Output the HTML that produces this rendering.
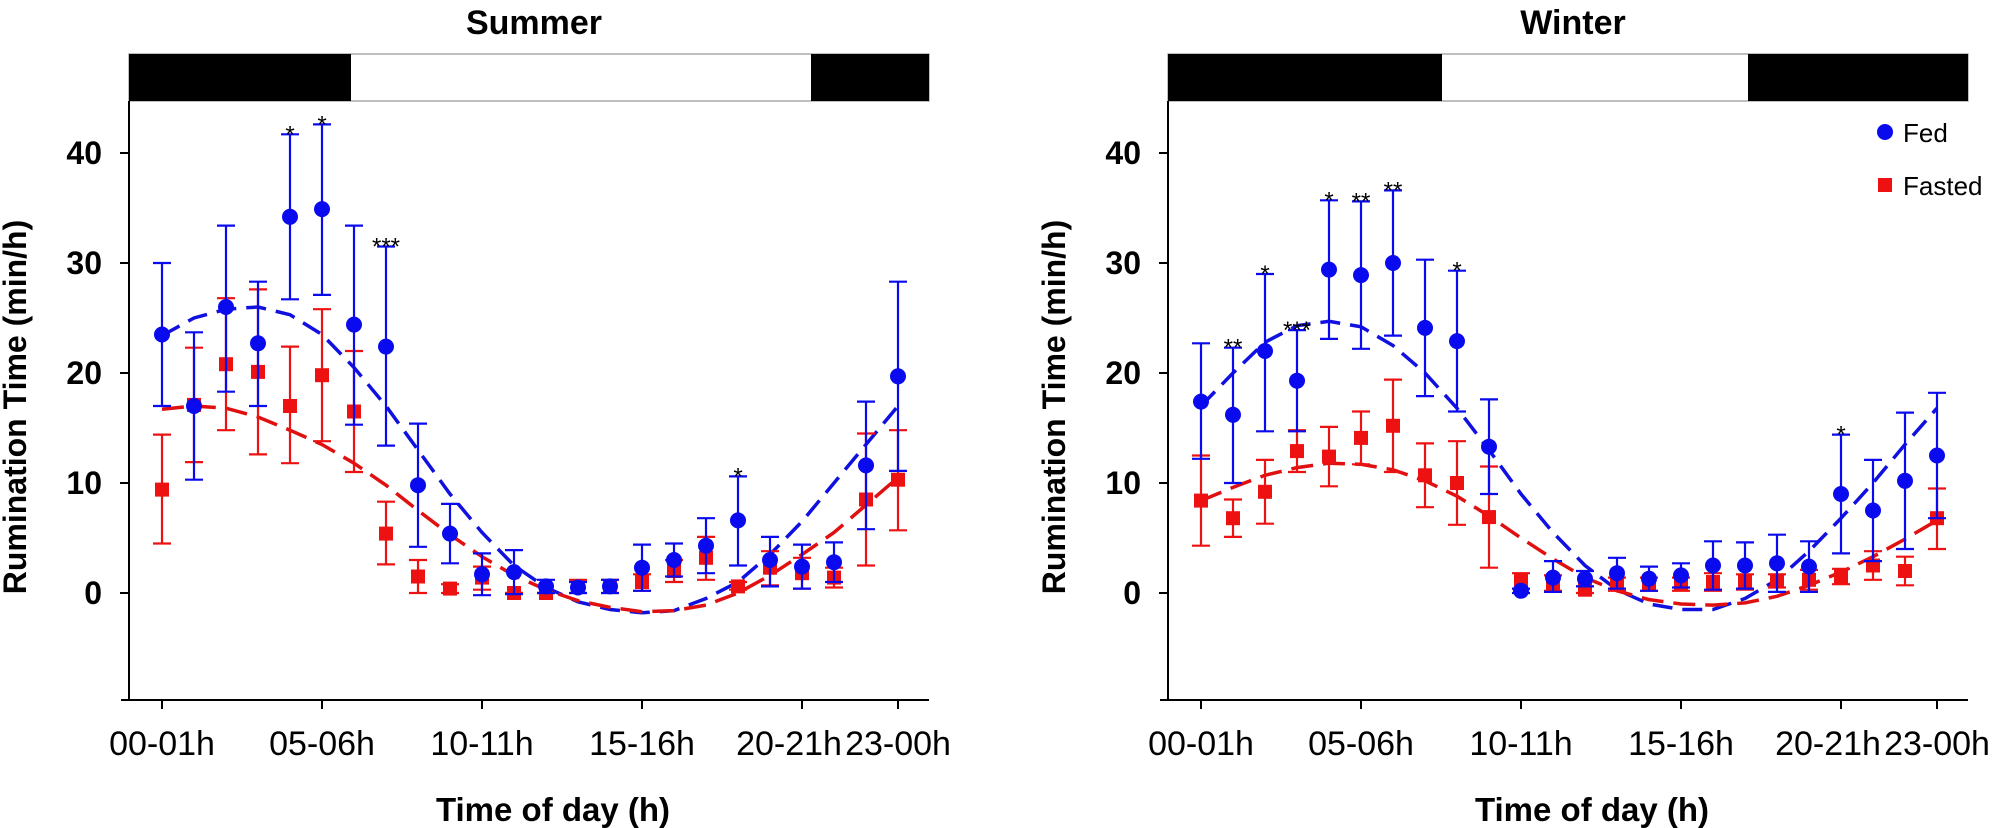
<!DOCTYPE html>
<html><head><meta charset="utf-8"><style>
body{margin:0;background:#fff}
svg{display:block}
text{font-family:"Liberation Sans",Arial,sans-serif}
</style></head><body>
<svg id="s" width="2007" height="828" xmlns="http://www.w3.org/2000/svg"></svg>
<script>
const S=document.getElementById('s');let h='';
const Y=v=>593-11*v;
function panel(x0,title,bars,fed,fas,cb,cr,stars){
 const X=i=>x0+33+32*i;const L=x0,R=x0+800;
 h+=`<text x="${L+405}" y="34" font-size="34" font-weight="bold" text-anchor="middle">${title}</text>`;
 h+=`<rect x="${L}" y="54" width="800" height="47" fill="#fff" stroke="#aaa" stroke-width="1.5"/>`;
 bars.forEach(b=>h+=`<rect x="${b[0]}" y="54" width="${b[1]-b[0]}" height="47" fill="#000"/>`);
 h+=`<line x1="${L}" y1="101" x2="${L}" y2="701" stroke="#000" stroke-width="2"/>`;
 h+=`<line x1="${L-8}" y1="700" x2="${R}" y2="700" stroke="#000" stroke-width="2"/>`;
 [0,10,20,30,40].forEach(v=>{h+=`<line x1="${L-9}" y1="${Y(v)}" x2="${L}" y2="${Y(v)}" stroke="#000" stroke-width="2"/><text x="${L-27}" y="${Y(v)+11}" font-size="32" font-weight="bold" text-anchor="end">${v}</text>`});
 [[0,'00-01h',0],[5,'05-06h',0],[10,'10-11h',0],[15,'15-16h',0],[20,'20-21h',-13],[23,'23-00h',0]].forEach(t=>{h+=`<line x1="${X(t[0])}" y1="700" x2="${X(t[0])}" y2="709" stroke="#000" stroke-width="2"/><text x="${X(t[0])+t[2]}" y="755" font-size="34" text-anchor="middle">${t[1]}</text>`});
 h+=`<text x="${L+424}" y="821" font-size="33" font-weight="bold" text-anchor="middle">Time of day (h)</text>`;
 h+=`<text transform="translate(${L-103},407) rotate(-90)" font-size="32" font-weight="bold" text-anchor="middle">Rumination Time (min/h)</text>`;
 const curve=(c,col,da)=>{h+=`<polyline fill="none" stroke="${col}" stroke-width="3.5" stroke-dasharray="${da}" points="${c.map((v,i)=>X(i)+','+Y(v)).join(' ')}"/>`};
 curve(cb,'#1010e0','20 10');curve(cr,'#e01010','22 10');
 const eb=(d,col,shape)=>d.forEach((p,i)=>{const x=X(i);h+=`<line x1="${x}" y1="${Y(p[1])}" x2="${x}" y2="${Y(p[2])}" stroke="${col}" stroke-width="2.2"/><line x1="${x-9}" y1="${Y(p[1])}" x2="${x+9}" y2="${Y(p[1])}" stroke="${col}" stroke-width="2.2"/><line x1="${x-9}" y1="${Y(p[2])}" x2="${x+9}" y2="${Y(p[2])}" stroke="${col}" stroke-width="2.2"/>`;
  h+=shape=='c'?`<circle cx="${x}" cy="${Y(p[0])}" r="8" fill="${col}"/>`:`<rect x="${x-7}" y="${Y(p[0])-7}" width="14" height="14" fill="${col}"/>`});
 eb(fas,'#ee1111','s');eb(fed,'#0a0aee','c');
 stars.forEach(s=>h+=`<text x="${X(s[0])}" y="${Y(fed[s[0]][2])+8}" font-size="24" text-anchor="middle">${s[1]}</text>`);
}
const sf=[[23.5,17,30],[17,10.3,23.7],[26,18.3,33.4],[22.7,17,28.3],[34.2,26.7,41.7],[34.9,27.1,42.6],[24.4,15.3,33.4],[22.4,13.4,31.5],[9.8,4.2,15.4],[5.4,2.7,8.1],[1.7,-0.2,3.6],[1.9,-0.1,3.9],[0.6,0,1.2],[0.5,0,1],[0.6,0,1.2],[2.3,0.2,4.4],[3,1.5,4.5],[4.3,1.8,6.8],[6.6,2.5,10.6],[3,0.6,5.1],[2.4,0.4,4.4],[2.8,1,4.6],[11.6,5.8,17.4],[19.7,11.1,28.3]];
const sr=[[9.4,4.5,14.4],[17.1,11.9,22.3],[20.8,14.8,26.8],[20.1,12.6,27.6],[17,11.8,22.4],[19.8,13.8,25.8],[16.5,11,22],[5.4,2.6,8.3],[1.5,0,3],[0.4,0,0.8],[1.4,0.3,2.4],[0,0,0],[0,0,0],[0.6,0,1.2],[0.6,0,1.2],[1,0.2,1.7],[2,1,3],[3.2,1.2,5.1],[0.6,0.3,1],[2.3,0.7,3.8],[1.8,0.4,3.2],[1.4,0.5,2.3],[8.5,2.5,14.5],[10.3,5.7,14.8]];
const wf=[[17.4,12.2,22.7],[16.2,10,22.3],[22,14.7,29],[19.3,14.7,23.9],[29.4,23.1,35.7],[28.9,22.2,35.6],[30,23.4,36.6],[24.1,17.9,30.3],[22.9,16.5,29.3],[13.3,9,17.6],[0.2,0,0.4],[1.4,0.1,2.9],[1.3,0.6,2],[1.8,0.4,3.2],[1.3,0.2,2.4],[1.6,0.5,2.7],[2.5,0.3,4.7],[2.5,0.4,4.6],[2.7,0.1,5.3],[2.4,0.1,4.7],[9,3.6,14.4],[7.5,2.9,12.1],[10.2,4,16.4],[12.5,6.8,18.2]];
const wr=[[8.4,4.3,12.5],[6.8,5.1,8.5],[9.2,6.3,12.1],[12.9,11,14.8],[12.4,9.7,15.1],[14.1,11.7,16.5],[15.2,11,19.4],[10.7,7.8,13.6],[10,6.2,13.8],[6.9,2.3,11.5],[1.1,0.4,1.8],[0.9,0.2,1.6],[0.3,0,0.6],[0.8,0.2,1.4],[0.8,0.2,1.4],[0.8,0.2,1.4],[1,0.2,1.8],[1,0.3,1.7],[1.1,0.5,1.7],[1.2,0.3,2.1],[1.5,0.8,2.2],[2.5,1.2,3.8],[2,0.7,3.3],[6.8,4,9.5]];
panel(129,'Summer',[[129,351],[811,929]],sf,sr,
[23.4,25,25.8,26,25.3,23.5,20.5,17,13,9,5.5,2.5,0.5,-0.8,-1.5,-1.8,-1.6,-0.5,1,3.5,6.5,10,13.5,17],
[16.7,17,16.8,16,14.8,13.5,11.8,9.8,7.5,5.3,3.3,1.6,0.3,-0.7,-1.3,-1.7,-1.6,-1.1,0,1.6,3.5,5.5,8,10.5],
[[4,'*'],[5,'*'],[7,'***'],[18,'*']]);
panel(1168,'Winter',[[1168,1442],[1748,1968]],wf,wr,
[17,20,22.8,24.3,24.7,24.2,22.5,20,16.8,13,9,5.5,2.5,0.3,-1,-1.5,-1.5,-0.5,1.2,3.8,6.8,10,13.5,16.8],
[8.4,9.6,10.7,11.4,11.8,11.7,11.2,10.2,8.8,7,5,3.1,1.4,0.2,-0.6,-1,-1.1,-0.9,-0.3,0.7,1.9,3.3,4.9,6.6],
[[1,'**'],[2,'*'],[3,'***'],[4,'*'],[5,'**'],[6,'**'],[8,'*'],[20,'*']]);
h+=`<circle cx="1885" cy="132" r="8" fill="#0a0aee"/><text x="1903" y="142" font-size="26">Fed</text>`;
h+=`<rect x="1878" y="178" width="14" height="14" fill="#ee1111"/><text x="1903" y="195" font-size="26">Fasted</text>`;
S.innerHTML=h;
</script>
</body></html>
